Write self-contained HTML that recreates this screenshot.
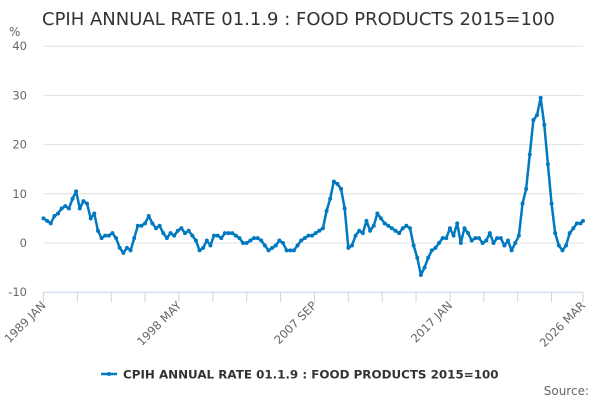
<!DOCTYPE html>
<html><head><meta charset="utf-8"><style>
body{margin:0;background:#fff;font-family:"Liberation Sans","DejaVu Sans",sans-serif;}
svg text{font-family:"DejaVu Sans","Liberation Sans",sans-serif;}
</style></head><body>
<svg id="chart" width="600" height="400" viewBox="0 0 600 400" xmlns="http://www.w3.org/2000/svg">
<text x="42" y="25" font-size="18" fill="#333">CPIH ANNUAL RATE 01.1.9 : FOOD PRODUCTS 2015=100</text>
<text x="9" y="36" font-size="12" fill="#666">%</text>
<g id="grid"></g>
<g id="xaxis"></g>
<g id="series"></g>
<g>
<line x1="101" y1="374" x2="117" y2="374" stroke="#0079c1" stroke-width="2.5"/>
<circle cx="109" cy="374" r="2" fill="#0079c1"/>
<text x="123" y="378.5" font-size="11.9" font-weight="bold" fill="#333">CPIH ANNUAL RATE 01.1.9 : FOOD PRODUCTS 2015=100</text>
</g>
<text x="589" y="395" font-size="12" fill="#666" text-anchor="end">Source:</text>
</svg>
<script>
const yTicks=[40,30,20,10,0,-10];
const xLabels=["1989 JAN","1998 MAY","2007 SEP","2017 JAN","2026 MAR"];
const xLabelMonths=[0,112,224,336,446];
const startYear=1989;
const stepMonths=3;
const values=[5,4.5,4,5.5,6,7,7.5,7,9,10.5,7,8.5,8,5,6,2.5,1,1.5,1.5,2,1,-1,-2,-1,-1.5,1,3.5,3.5,4,5.5,4,3,3.5,2,1,2,1.5,2.5,3,2,2.5,1.5,0.5,-1.5,-1,0.5,-0.5,1.5,1.5,1,2,2,2,1.5,1,0,0,0.5,1,1,0.5,-0.5,-1.5,-1,-0.5,0.5,0,-1.5,-1.5,-1.5,-0.5,0.5,1,1.5,1.5,2,2.5,3,6.5,9,12.5,12,11,7,-1,-0.5,1.5,2.5,2,4.5,2.5,3.5,6,5,4,3.5,3,2.5,2,3,3.5,3,-0.5,-3,-6.5,-5,-3,-1.5,-1,0,1,1,3,1.5,4,0,3,2,0.5,1,1,0,0.5,2,0,1,1,-0.5,0.5,-1.5,0,1.5,8,11,18,25,26,29.5,24,16,8,2,-0.5,-1.5,-0.5,2,3,4,4,4.5];
const NS="http://www.w3.org/2000/svg";
const X0=43.5,X1=583,Y0=243,PPU=4.92,TOTAL=446;
function xs(m){return X0+m*(X1-X0)/TOTAL;}
function ys(v){return Y0-v*PPU;}
function mk(t,a,p){const e=document.createElementNS(NS,t);for(const k in a)e.setAttribute(k,a[k]);p.appendChild(e);return e;}
const grid=document.getElementById('grid');
yTicks.forEach(v=>{
  if(v!==-10){const l=mk('line',{x1:X0,x2:X1,y1:ys(v),y2:ys(v),stroke:'#e0e0e0','stroke-width':1},grid);
  
  }
  const t=mk('text',{x:27,y:ys(v)+4,'font-size':11.5,fill:'#666','text-anchor':'end'},grid);
  t.textContent=v;
  
  
});
const xa=document.getElementById('xaxis');
mk('line',{x1:X0,x2:X1,y1:ys(-10),y2:ys(-10),stroke:'#c6d6ea','stroke-width':1},xa);
for(let m=0;m<=TOTAL;m+=28){mk('line',{x1:xs(m),x2:xs(m),y1:ys(-10),y2:ys(-10)+10,stroke:'#c6d6ea'},xa);}
mk('line',{x1:xs(TOTAL),x2:xs(TOTAL),y1:ys(-10),y2:ys(-10)+10,stroke:'#c6d6ea'},xa);
xLabels.forEach((s,i)=>{
  const x=xs(xLabelMonths[i]),y=ys(-10)+14;
  const t=mk('text',{x:x+3,y:y,'font-size':11.5,fill:'#666','text-anchor':'end',transform:`rotate(-45 ${x+3} ${y})`},xa);
  t.textContent=s;
  
  
});
const g=document.getElementById('series');
const pts=values.map((v,i)=>[xs(Math.min(i*stepMonths,TOTAL)),ys(v)]);
const pl=mk('polyline',{points:pts.map(p=>p.join(',')).join(' '),fill:'none',stroke:'#0079c1','stroke-width':2.5,'stroke-linejoin':'round'},g);


pts.forEach(p=>{
  const c=mk('circle',{cx:p[0],cy:p[1],r:2,fill:'#0079c1'},g);
  
  
});
</script>
</body></html>
